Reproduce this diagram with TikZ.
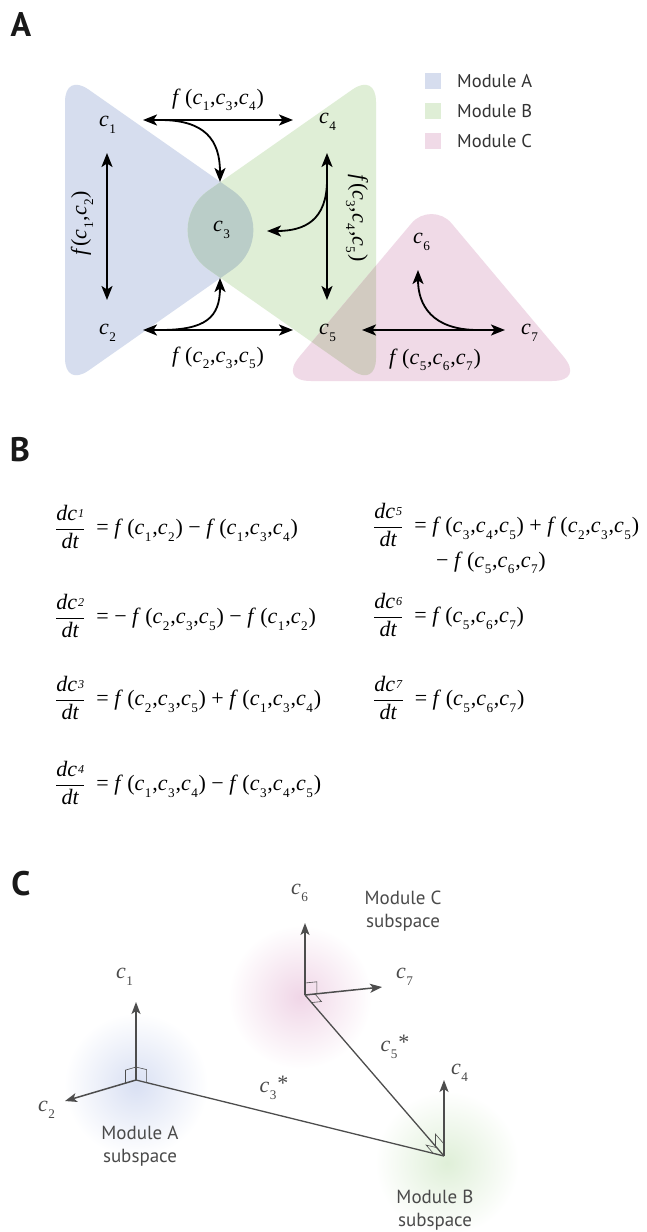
\documentclass[tikz,border=0pt]{standalone}
\usepackage{fontspec}
\setmainfont{Liberation Serif}
\newfontfamily\sansf{PT Sans}
\usepackage{graphicx}
\usetikzlibrary{arrows.meta,calc}

\definecolor{modA}{HTML}{D6DDEE}
\definecolor{modB}{HTML}{DFEED6}
\definecolor{modC}{HTML}{F0DAE7}
\definecolor{modAB}{HTML}{BACDC8}
\definecolor{modBC}{HTML}{D2CBC1}
\definecolor{axgray}{HTML}{4D4D4D}
\definecolor{txtgray}{HTML}{4A4A4A}
\definecolor{glowA}{HTML}{D9E0F3}
\definecolor{glowB}{HTML}{DFEFD8}
\definecolor{glowC}{HTML}{F0D6E7}

\newcommand\myc[1]{\textit{c}\kern0.5pt\raisebox{-0.3em}{\scalebox{0.6}{#1}}\kern0.8pt}
\newcommand\myf[1]{\textit{f}\hspace{0.2em}(#1)}
\newcommand\myfn[1]{\textit{f}(#1)}
\newcommand\mynum[1]{\textit{dc}\kern1pt\raisebox{0.12em}{\scalebox{0.55}{\textit{#1}}}}
\newcommand\mydt[1]{$\displaystyle\frac{\hbox{\mynum{#1}}}{\hbox{\textit{dt}}}$\hspace{11pt}}

\def\pathA{($(A1)!29pt!(A3)$) .. controls ($(A1)!12pt!(A3)$) and ($(A1)!12pt!(A2)$) .. ($(A1)!29pt!(A2)$) -- ($(A2)!69pt!(A1)$) .. controls ($(A2)!35pt!(A1)$) and ($(A2)!35pt!(A3)$) .. ($(A2)!69pt!(A3)$) -- ($(A3)!29pt!(A2)$) .. controls ($(A3)!12pt!(A2)$) and ($(A3)!12pt!(A1)$) .. ($(A3)!29pt!(A1)$) -- cycle}
\def\pathB{($(B1)!29pt!(B3)$) .. controls ($(B1)!12pt!(B3)$) and ($(B1)!12pt!(B2)$) .. ($(B1)!29pt!(B2)$) -- ($(B2)!69pt!(B1)$) .. controls ($(B2)!35pt!(B1)$) and ($(B2)!35pt!(B3)$) .. ($(B2)!69pt!(B3)$) -- ($(B3)!29pt!(B2)$) .. controls ($(B3)!12pt!(B2)$) and ($(B3)!12pt!(B1)$) .. ($(B3)!29pt!(B1)$) -- cycle}
\def\pathC{($(C1)!32pt!(C3)$) -- ($(C3)!32pt!(C1)$) .. controls ($(C3)!13pt!(C1)$) and ($(C3)!13pt!(C2)$) .. ($(C3)!32pt!(C2)$) -- ($(C2)!31pt!(C3)$) .. controls ($(C2)!15pt!(C3)$) and ($(C2)!15pt!(C1)$) .. ($(C2)!31pt!(C1)$) -- ($(C1)!32pt!(C2)$) .. controls ($(C1)!13pt!(C2)$) and ($(C1)!13pt!(C3)$) .. cycle}

\tikzset{
  tipA/.tip={Stealth[length=14pt,width=11pt,inset=3.5pt]},
  tipC/.tip={Stealth[length=12pt,width=9pt,inset=3pt]},
  dbl/.style={tipA-tipA, line width=1.8pt, black},
  sgl/.style={-tipA, line width=1.8pt, black},
  axis/.style={-tipC, line width=1.5pt, axgray},
  conn/.style={line width=1.3pt, axgray},
  rmark/.style={line width=0.6pt, axgray},
  clab/.style={font=\fontsize{22}{26}\selectfont, inner sep=0pt},
  glab/.style={font=\fontsize{22}{26}\selectfont, inner sep=0pt, text=txtgray},
  eqn/.style={font=\fontsize{22}{26}\selectfont, inner sep=0pt, anchor=west},
  panel/.style={font=\sansf\bfseries\fontsize{34}{36}\selectfont, inner sep=0pt, text=black!90},
  legsq/.style={minimum size=16pt, inner sep=0pt},
  legtx/.style={font=\sansf\fontsize{18.5}{22}\selectfont, inner sep=0pt, anchor=west, text=black!80},
  subsp/.style={font=\sansf\fontsize{19}{23}\selectfont, inner sep=0pt, align=center, text=txtgray},
}

\begin{document}
\begin{tikzpicture}[x=1pt,y=-1pt]
\useasboundingbox (0,0) rectangle (647,1232);
\fill[white] (0,0) rectangle (647,1232);

% ---------------- Panel A ----------------
\node[panel] (pA) at (21,25) {A};

\coordinate (A1) at (65,73);   \coordinate (A2) at (289,230);  \coordinate (A3) at (65,387);
\coordinate (B1) at (376,73);  \coordinate (B2) at (152,230);  \coordinate (B3) at (376,387);
\coordinate (C1) at (279,381); \coordinate (C2) at (431.5,199.5); \coordinate (C3) at (584,381);

\fill[modA] \pathA;
\fill[modB] \pathB;
\fill[modC] \pathC;
\begin{scope}\clip \pathA; \fill[modAB] \pathB; \end{scope}
\begin{scope}\clip \pathB; \fill[modBC] \pathC; \end{scope}

% legend
\node[legsq, fill=modA] (lsA) at (433,81) {};
\node[legsq, fill=modB] (lsB) at (433,111) {};
\node[legsq, fill=modC] (lsC) at (433,141) {};
\node[legtx] (ltA) at (457,81) {Module A};
\node[legtx] (ltB) at (457,111) {Module B};
\node[legtx] (ltC) at (457,141) {Module C};

% species labels
\node[clab] (c1) at (108,125) {\myc{1}};
\node[clab] (c2) at (108,333) {\myc{2}};
\node[clab] (c3) at (222,230) {\myc{3}};
\node[clab] (c4) at (328,122) {\myc{4}};
\node[clab] (c5) at (328,333) {\myc{5}};
\node[clab] (c6) at (422,242) {\myc{6}};
\node[clab] (c7) at (530,333) {\myc{7}};

% arrow end points
\coordinate (p14a) at (143,120); \coordinate (p14b) at (293,120);
\coordinate (p12a) at (107,153); \coordinate (p12b) at (107,300);
\coordinate (p25a) at (143,330); \coordinate (p25b) at (293,330);
\coordinate (p45a) at (327,153); \coordinate (p45b) at (327,300);
\coordinate (p57a) at (362,330); \coordinate (p57b) at (505,330);
\coordinate (c3t) at (220,182); \coordinate (c3b) at (220,278);
\coordinate (c3r) at (267,231); \coordinate (c6b) at (418,270);
\coordinate (k1) at (160,120); \coordinate (k2) at (160,330);
\coordinate (k3) at (327,180); \coordinate (k4) at (478,330);

\draw[dbl] (p14a) -- (p14b);
\draw[dbl] (p12a) -- (p12b);
\draw[dbl] (p25a) -- (p25b);
\draw[dbl] (p45a) -- (p45b);
\draw[dbl] (p57a) -- (p57b);
\draw[sgl] (k1) .. controls (205,120) and (220,140) .. (c3t);
\draw[sgl] (k2) .. controls (205,330) and (220,318) .. (c3b);
\draw[sgl] (k3) .. controls (327,220) and (305,231) .. (c3r);
\draw[sgl] (k4) .. controls (432,330) and (418,305) .. (c6b);

% reaction labels
\node[clab] (f134) at (218,100) {\myf{\myc{1},\myc{3},\myc{4}}};
\node[clab] (f235) at (218,358) {\myf{\myc{2},\myc{3},\myc{5}}};
\node[clab] (f567) at (435,360) {\myf{\myc{5},\myc{6},\myc{7}}};
\node[clab, rotate=90] (f12) at (82,223) {\myfn{\myc{1},\myc{2}}};
\node[clab, rotate=-90] (f345) at (357,218) {\myfn{\myc{3},\myc{4},\myc{5}}};

% ---------------- Panel B ----------------
\node[panel] (pB) at (20,450) {B};

\node[eqn] (e1) at (55,527) {\mydt{1}= \myf{\myc{1},\myc{2}} − \myf{\myc{1},\myc{3},\myc{4}}};
\node[eqn] (e2) at (55,616) {\mydt{2}= − \myf{\myc{2},\myc{3},\myc{5}} − \myf{\myc{1},\myc{2}}};
\node[eqn] (e3) at (55,698) {\mydt{3}= \myf{\myc{2},\myc{3},\myc{5}} + \myf{\myc{1},\myc{3},\myc{4}}};
\node[eqn] (e4) at (55,783) {\mydt{4}= \myf{\myc{1},\myc{3},\myc{4}} − \myf{\myc{3},\myc{4},\myc{5}}};
\node[eqn] (e5) at (373,525) {\mydt{5}= \myf{\myc{3},\myc{4},\myc{5}} + \myf{\myc{2},\myc{3},\myc{5}}};
\node[eqn] (e5b) at (436,563) {− \myf{\myc{5},\myc{6},\myc{7}}};
\node[eqn] (e6) at (373,615) {\mydt{6}= \myf{\myc{5},\myc{6},\myc{7}}};
\node[eqn] (e7) at (373,698) {\mydt{7}= \myf{\myc{5},\myc{6},\myc{7}}};

% ---------------- Panel C ----------------
\node[panel] (pC) at (21,884) {C};

\shade[inner color=glowA, outer color=white] (136,1085) circle (72);
\shade[inner color=glowC, outer color=white] (300,997) circle (72);
\shade[inner color=glowB, outer color=white] (447,1163) circle (72);

\coordinate (oA) at (136,1080);
\coordinate (oB) at (444,1156);
\coordinate (oC) at (305,995);
\coordinate (t1) at (136,1002);
\coordinate (t2) at (65,1101);
\coordinate (t6) at (305,923);
\coordinate (t7) at (382,987);
\coordinate (t4) at (444,1080);

\draw[conn] (oA) -- (oB);
\draw[conn] (oC) -- (oB);
\draw[axis] (oA) -- (t1);
\draw[axis] (oA) -- (t2);
\draw[axis] (oC) -- (t6);
\draw[axis] (oC) -- (t7);
\draw[axis] (oB) -- (t4);

% right-angle marks
\draw[rmark] ($(oA)!11pt!(t2)$) -- ($(oA)!11pt!(t2)+(0,-13)$) -- ($(oA)+(0,-13)$);
\draw[rmark] ($(oA)!11pt!(oB)$) -- ($(oA)!11pt!(oB)+(0,-13)$) -- ($(oA)+(0,-13)$);
\draw[rmark] ($(oC)!12pt!(t7)$) -- ($(oC)!12pt!(t7)+(0,-12)$) -- ($(oC)+(0,-12)$);
\draw[rmark] ($(oC)!10pt!(t7)$) -- ($(oC)!10pt!(t7)+($(oC)!10pt!(oB)-(oC)$)$) -- ($(oC)!10pt!(oB)$);
\draw[rmark] ($(oB)!13pt!(oC)$) -- ($(oB)!13pt!(oC)+(0,-12)$) -- ($(oB)+(0,-12)$);
\draw[rmark] ($(oB)!11pt!(oA)$) -- ($(oB)!11pt!(oA)+($(oB)!11pt!(oC)-(oB)$)$) -- ($(oB)!11pt!(oC)$);

\node[glab] (g1) at (125,977) {\myc{1}};
\node[glab] (g2) at (47,1110) {\myc{2}};
\node[glab] (g3) at (274,1088) {\myc{3}\raisebox{0.1em}{*}};
\node[glab] (g4) at (460,1073) {\myc{4}};
\node[glab] (g5) at (395,1047) {\myc{5}\raisebox{0.1em}{*}};
\node[glab] (g6) at (300,893) {\myc{6}};
\node[glab] (g7) at (405,977) {\myc{7}};

\node[subsp] (sA) at (140,1146) {Module A\\subspace};
\node[subsp] (sC) at (403,911) {Module C\\subspace};
\node[subsp] (sB) at (435,1210) {Module B\\subspace};
\end{tikzpicture}
\end{document}
